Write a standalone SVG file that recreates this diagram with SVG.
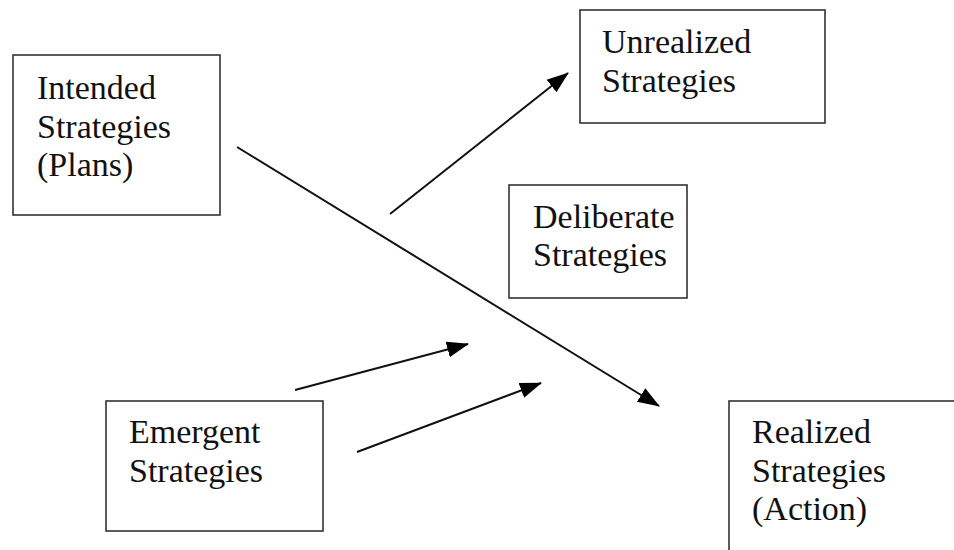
<svg xmlns="http://www.w3.org/2000/svg" width="954" height="550" viewBox="0 0 954 550">
  <style>
    .box { fill: #fff; stroke: #333; stroke-width: 1.6; }
    .label { font-family: "Liberation Serif", "Times New Roman", serif; font-size: 34px; fill: #111; }
    .conn { stroke: #111; stroke-width: 2; fill: none; marker-end: url(#arrow); }
  </style>
  <defs>
    <marker id="arrow" markerUnits="userSpaceOnUse" markerWidth="22" markerHeight="18" viewBox="0 0 22 18" refX="21" refY="9" orient="auto">
      <path d="M0,1 L22,9 L0,17 Z" fill="#000"/>
    </marker>
  </defs>
  <rect width="954" height="550" fill="#fff"/>

  <g id="intended">
    <rect class="box" x="13" y="55" width="207" height="160"/>
    <text class="label" x="37" y="99">Intended</text>
    <text class="label" x="37" y="138">Strategies</text>
    <text class="label" x="37" y="176">(Plans)</text>
  </g>

  <g id="unrealized">
    <rect class="box" x="580" y="10" width="245" height="113"/>
    <text class="label" x="602" y="53">Unrealized</text>
    <text class="label" x="602" y="92">Strategies</text>
  </g>

  <g id="deliberate">
    <rect class="box" x="509" y="185" width="178" height="113"/>
    <text class="label" x="533" y="228">Deliberate</text>
    <text class="label" x="533" y="266">Strategies</text>
  </g>

  <g id="emergent">
    <rect class="box" x="106" y="401" width="217" height="130"/>
    <text class="label" x="129" y="443">Emergent</text>
    <text class="label" x="129" y="482">Strategies</text>
  </g>

  <g id="realized">
    <rect class="box" x="729" y="401" width="240" height="170"/>
    <text class="label" x="752" y="443">Realized</text>
    <text class="label" x="752" y="482">Strategies</text>
    <text class="label" x="752" y="520">(Action)</text>
  </g>

  <g id="connectors">
    <line class="conn" x1="237" y1="147" x2="659" y2="406"/>
    <line class="conn" x1="390" y1="214" x2="568" y2="73"/>
    <line class="conn" x1="295" y1="390" x2="468" y2="344"/>
    <line class="conn" x1="357" y1="452" x2="541" y2="383"/>
  </g>
</svg>
